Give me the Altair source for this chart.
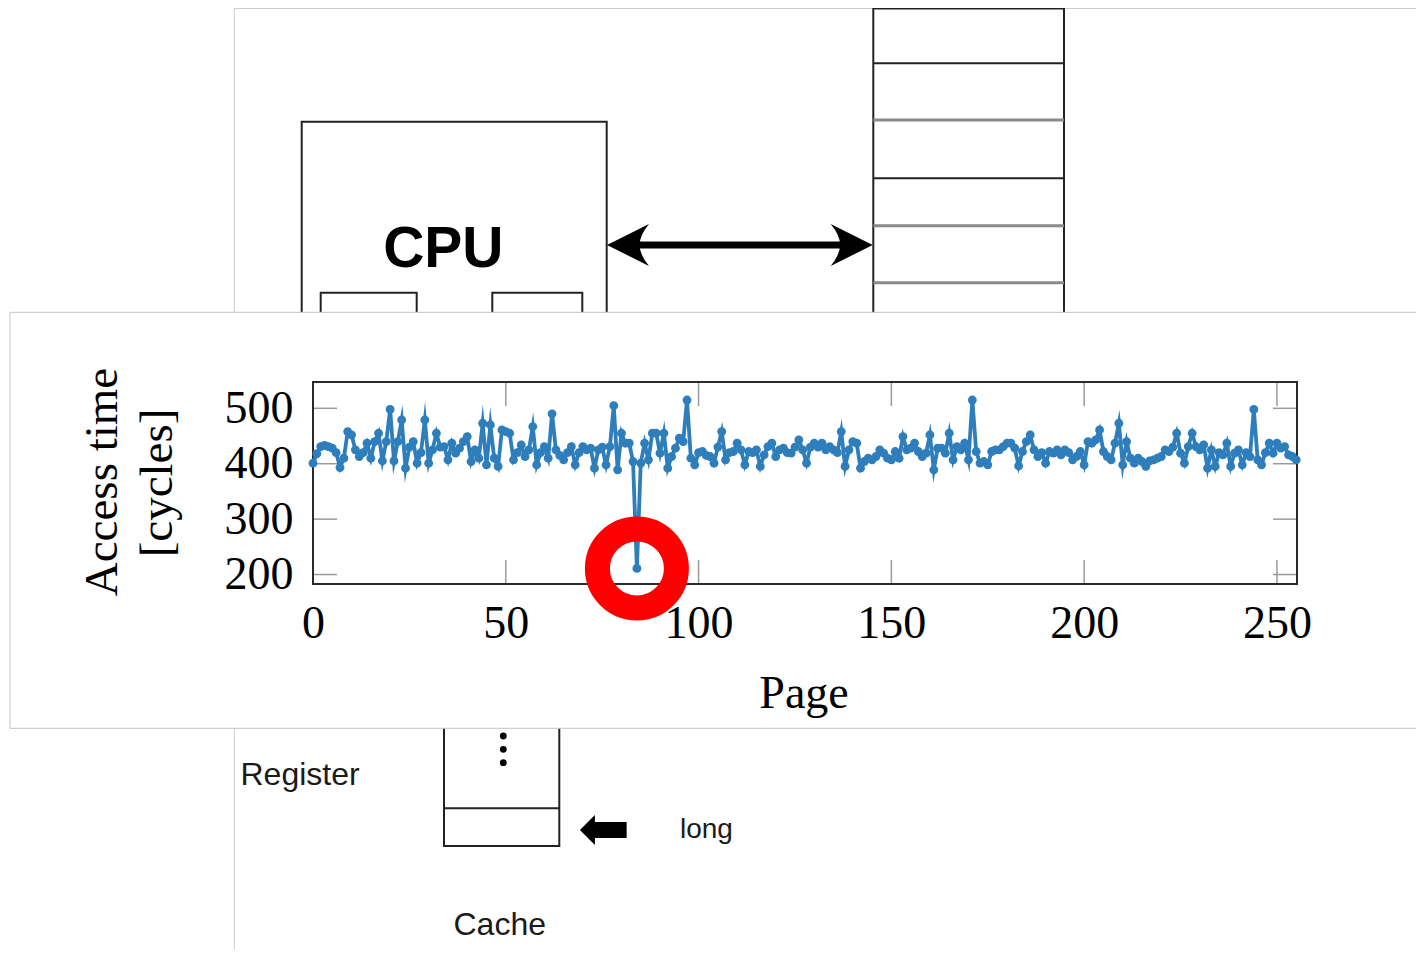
import altair as alt
import pandas as pd

# ---------------- chart data ----------------
PAGES = list(range(256))
ACCESS = [
    401, 418, 431, 433, 431, 428, 420, 393, 410, 458, 452, 425, 413, 420, 437, 410,
    440, 455, 405, 440, 498, 405, 440, 479, 392, 430, 440, 401, 420, 479, 401, 425,
    455, 430, 431, 407, 437, 419, 428, 440, 449, 404, 425, 410, 473, 398, 470, 410,
    395, 461, 458, 455, 407, 420, 434, 413, 425, 467, 398, 420, 431, 410, 490, 425,
    415, 407, 420, 431, 398, 420, 431, 425, 428, 392, 425, 430, 398, 431, 505, 389,
    455, 437, 437, 404, 211, 401, 437, 407, 455, 455, 419, 455, 392, 413, 428, 446,
    440, 515, 410, 398, 420, 422, 415, 413, 401, 430, 458, 407, 420, 422, 437, 425,
    398, 422, 420, 425, 395, 416, 431, 437, 413, 425, 428, 420, 419, 430, 443, 425,
    401, 430, 437, 430, 437, 425, 431, 425, 420, 458, 395, 425, 440, 437, 392, 404,
    410, 407, 413, 425, 419, 410, 407, 422, 410, 449, 425, 428, 437, 422, 413, 419,
    452, 389, 428, 428, 419, 455, 407, 431, 425, 437, 407, 515, 422, 401, 404, 398,
    422, 425, 425, 431, 437, 437, 428, 396, 422, 440, 452, 425, 413, 420, 401, 422,
    419, 425, 416, 425, 420, 407, 413, 422, 398, 440, 437, 443, 461, 422, 413, 407,
    437, 473, 398, 440, 410, 401, 410, 404, 395, 405, 407, 410, 413, 425, 422, 430,
    455, 419, 401, 431, 455, 431, 425, 434, 392, 425, 395, 420, 416, 437, 395, 419,
    425, 398, 420, 413, 498, 407, 398, 420, 437, 419, 437, 428, 431, 416, 413, 407,
]
X_TICKS = [0, 50, 100, 150, 200, 250]
Y_TICKS = [200, 300, 400, 500]
X_DOMAIN = [0, 255.2]
Y_DOMAIN = [182.9, 547.5]
HIGHLIGHT_PAGE = [84]
HIGHLIGHT_VALUE = [211]

Y_TITLE = ["Access time", "[cycles]"]
X_TITLE = ["Page"]

# ---------------- background slide (page-pixel coordinates) ----------------
SLIDE_LINE_X = [234.3, 234.3]
SLIDE_LINE_X2 = [234.3, 1430]
SLIDE_LINE_Y = [8.5, 8.5]
SLIDE_LINE_Y2 = [960, 8.5]

BOX_X = [301.7, 320.7, 492.3, 873.3, 444.0]
BOX_X2 = [606.7, 416.7, 582.3, 1064.0, 559.3]
BOX_Y = [121.7, 292.7, 292.7, 8.5, 700.0]
BOX_Y2 = [400.0, 400.0, 400.0, 400.0, 846.0]

DARK_DIV_X = [873.3, 873.3, 444.0]
DARK_DIV_X2 = [1064.0, 1064.0, 559.3]
DARK_DIV_Y = [63.3, 178.3, 808.3]

GRAY_DIV_Y = [120.0, 225.7, 282.7]

BUS_X = [635.0]
BUS_X2 = [845.0]
BUS_Y = [245.0]

HEAD_X = [628.0, 851.7]
HEAD_Y = [245.0, 245.0]
HEAD_ANGLE = [0, 180]

LONG_ARROW_X = [603.3]
LONG_ARROW_Y = [830.0]

DOTS_X = [503.3, 503.3, 503.3]
DOTS_Y = [736.0, 749.3, 762.7]

SANS_TEXT = ["Register", "long", "Cache"]
SANS_X = [240.5, 680.0, 453.5]
SANS_Y = [784.7, 838.3, 935.0]
SANS_SIZE = [32, 28, 32]

CPU_TEXT = ["CPU"]
CPU_X = [443.3]
CPU_Y = [266.7]

PANEL = dict(x=[10.0], x2=[1440.0], y=[312.3], y2=[728.3])
FRAME = dict(x=[313.0], x2=[1297.0], y=[382.0], y2=[584.0])

BLUE = "#2e7ebc"
SERIF = "Liberation Serif"
SANS = "Liberation Sans"

PXS = alt.Scale(domain=[313, 1297], nice=False, zero=False)
PYS = alt.Scale(domain=[382, 584], nice=False, zero=False, reverse=True)
DXS = alt.Scale(domain=X_DOMAIN, nice=False, zero=False)
DYS = alt.Scale(domain=Y_DOMAIN, nice=False, zero=False)


def pxx(f):
    return alt.X(f"{f}:Q", scale=PXS, axis=None)


def pyy(f):
    return alt.Y(f"{f}:Q", scale=PYS, axis=None)


# ---------------- background slide layers ----------------
slide_lines = alt.Chart(pd.DataFrame({"x": SLIDE_LINE_X, "x2": SLIDE_LINE_X2,
                                      "y": SLIDE_LINE_Y, "y2": SLIDE_LINE_Y2})).mark_rule(
    color="#cccccc", strokeWidth=1).encode(x=pxx("x"), x2="x2:Q", y=pyy("y"), y2="y2:Q")

boxes = alt.Chart(pd.DataFrame({"x": BOX_X, "x2": BOX_X2, "y": BOX_Y, "y2": BOX_Y2})).mark_rect(
    fill="white", fillOpacity=0, stroke="#222222", strokeWidth=2).encode(
    x=pxx("x"), x2="x2:Q", y=pyy("y"), y2="y2:Q")

dark_div = alt.Chart(pd.DataFrame({"x": DARK_DIV_X, "x2": DARK_DIV_X2, "y": DARK_DIV_Y})).mark_rule(
    color="#222222", strokeWidth=2).encode(x=pxx("x"), x2="x2:Q", y=pyy("y"))

gray_div = alt.Chart(pd.DataFrame({"x": [873.3] * 3, "x2": [1064.0] * 3, "y": GRAY_DIV_Y})).mark_rule(
    color="#8a8a8a", strokeWidth=3).encode(x=pxx("x"), x2="x2:Q", y=pyy("y"))

bus = alt.Chart(pd.DataFrame({"x": BUS_X, "x2": BUS_X2, "y": BUS_Y})).mark_rule(
    color="black", strokeWidth=7).encode(x=pxx("x"), x2="x2:Q", y=pyy("y"))

HEAD_PATH = "M -1 0 L 1 -1 Q 0.55 -0.45 0.55 0 Q 0.55 0.45 1 1 Z"
heads = alt.Chart(pd.DataFrame({"x": HEAD_X, "y": HEAD_Y, "a": HEAD_ANGLE})).mark_point(
    shape=HEAD_PATH, filled=True, color="black", opacity=1, size=1764, strokeWidth=0).encode(
    x=pxx("x"), y=pyy("y"), angle=alt.Angle("a:Q", scale=None))

LONG_PATH = "M -1 0 L -0.36 -0.64 L -0.36 -0.34 L 1 -0.34 L 1 0.34 L -0.36 0.34 L -0.36 0.64 Z"
long_arrow = alt.Chart(pd.DataFrame({"x": LONG_ARROW_X, "y": LONG_ARROW_Y})).mark_point(
    shape=LONG_PATH, filled=True, color="black", opacity=1, size=2181, strokeWidth=0).encode(
    x=pxx("x"), y=pyy("y"))

dots = alt.Chart(pd.DataFrame({"x": DOTS_X, "y": DOTS_Y})).mark_circle(
    color="black", opacity=1, size=46).encode(x=pxx("x"), y=pyy("y"))

sans_text = alt.Chart(pd.DataFrame({"t": SANS_TEXT, "x": SANS_X, "y": SANS_Y, "s": SANS_SIZE})).mark_text(
    font=SANS, align="left", baseline="alphabetic", color="#1a1a1a").encode(
    x=pxx("x"), y=pyy("y"), text="t:N", size=alt.Size("s:Q", scale=None, legend=None))

cpu_text = alt.Chart(pd.DataFrame({"t": CPU_TEXT, "x": CPU_X, "y": CPU_Y})).mark_text(
    font=SANS, fontWeight="bold", fontSize=57, align="center", baseline="alphabetic", color="black").encode(
    x=pxx("x"), y=pyy("y"), text="t:N")

# ---------------- chart panel ----------------
panel = alt.Chart(pd.DataFrame(PANEL)).mark_rect(
    fill="white", stroke="#c4c4c4", strokeWidth=1).encode(x=pxx("x"), x2="x2:Q", y=pyy("y"), y2="y2:Q")

xt = pd.DataFrame({"page": X_TICKS * 2,
                   "y": [382.0] * len(X_TICKS) + [560.0] * len(X_TICKS),
                   "y2": [406.0] * len(X_TICKS) + [584.0] * len(X_TICKS)})
x_ticks = alt.Chart(xt).mark_rule(color="#9a9a9a", strokeWidth=1.5).encode(
    x=alt.X("page:Q", scale=DXS, axis=None), y=pyy("y"), y2="y2:Q")

yt = pd.DataFrame({"access": Y_TICKS * 2,
                   "x": [313.0] * len(Y_TICKS) + [1273.0] * len(Y_TICKS),
                   "x2": [337.0] * len(Y_TICKS) + [1297.0] * len(Y_TICKS)})
y_ticks = alt.Chart(yt).mark_rule(color="#9a9a9a", strokeWidth=1.5).encode(
    y=alt.Y("access:Q", scale=DYS, axis=None), x=pxx("x"), x2="x2:Q")

frame = alt.Chart(pd.DataFrame(FRAME)).mark_rect(
    fill="white", fillOpacity=0, stroke="#2a2a2a", strokeWidth=2).encode(
    x=pxx("x"), x2="x2:Q", y=pyy("y"), y2="y2:Q")

data = pd.DataFrame({"page": PAGES, "access": ACCESS})

x_axis = alt.Axis(values=X_TICKS, orient="bottom", labelFont=SERIF, labelFontSize=46, labelColor="black",
                  domain=False, ticks=False, tickSize=0, grid=False, title=None, labelPadding=53,
                  labelBaseline="alphabetic", labelAlign="center", labelFlush=False, labelOverlap=False,
                  zindex=1, format="d")
y_axis = alt.Axis(values=Y_TICKS, orient="left", labelFont=SERIF, labelFontSize=46, labelColor="black",
                  domain=False, ticks=False, tickSize=0, grid=False, title=None, labelPadding=20,
                  labelBaseline="middle", labelAlign="right", labelFlush=False, labelOverlap=False,
                  zindex=1, format="d")

line = alt.Chart(data).mark_line(color=BLUE, strokeWidth=3.8, strokeJoin="miter", strokeMiterLimit=10).encode(
    x=alt.X("page:Q", scale=DXS, axis=x_axis),
    y=alt.Y("access:Q", scale=DYS, axis=y_axis))

points = alt.Chart(data).mark_circle(color=BLUE, opacity=1, size=78).encode(
    x=alt.X("page:Q", scale=DXS, axis=None),
    y=alt.Y("access:Q", scale=DYS, axis=None))

ytitle = alt.Chart(pd.DataFrame({"t": Y_TITLE, "x": [117.0, 172.0], "y": [482.0, 483.0]})).mark_text(
    font=SERIF, fontSize=47, angle=270, align="center", baseline="alphabetic", color="black").encode(
    x=pxx("x"), y=pyy("y"), text="t:N")

xtitle = alt.Chart(pd.DataFrame({"t": X_TITLE, "x": [804.0], "y": [708.3]})).mark_text(
    font=SERIF, fontSize=46, align="center", baseline="alphabetic", color="black").encode(
    x=pxx("x"), y=pyy("y"), text="t:N")

ring = alt.Chart(pd.DataFrame({"page": HIGHLIGHT_PAGE, "access": HIGHLIGHT_VALUE})).mark_point(
    shape="circle", filled=False, size=6241, stroke="#ff0000", strokeWidth=25, opacity=1).encode(
    x=alt.X("page:Q", scale=DXS, axis=None),
    y=alt.Y("access:Q", scale=DYS, axis=None))

chart = alt.layer(
    slide_lines, boxes, dark_div, gray_div, bus, heads, long_arrow, dots, sans_text, cpu_text,
    panel, x_ticks, y_ticks, frame, line, points, ytitle, xtitle, ring,
).resolve_scale(
    x="independent", y="independent"
).properties(
    width=984, height=202,
    padding={"left": 305, "top": 374, "right": 119, "bottom": 365},
    autosize=alt.AutoSizeParams(type="none"),
    background="white",
).configure_view(stroke=None)

chart.save("out.html", embed_options={"renderer": "svg", "actions": False})
